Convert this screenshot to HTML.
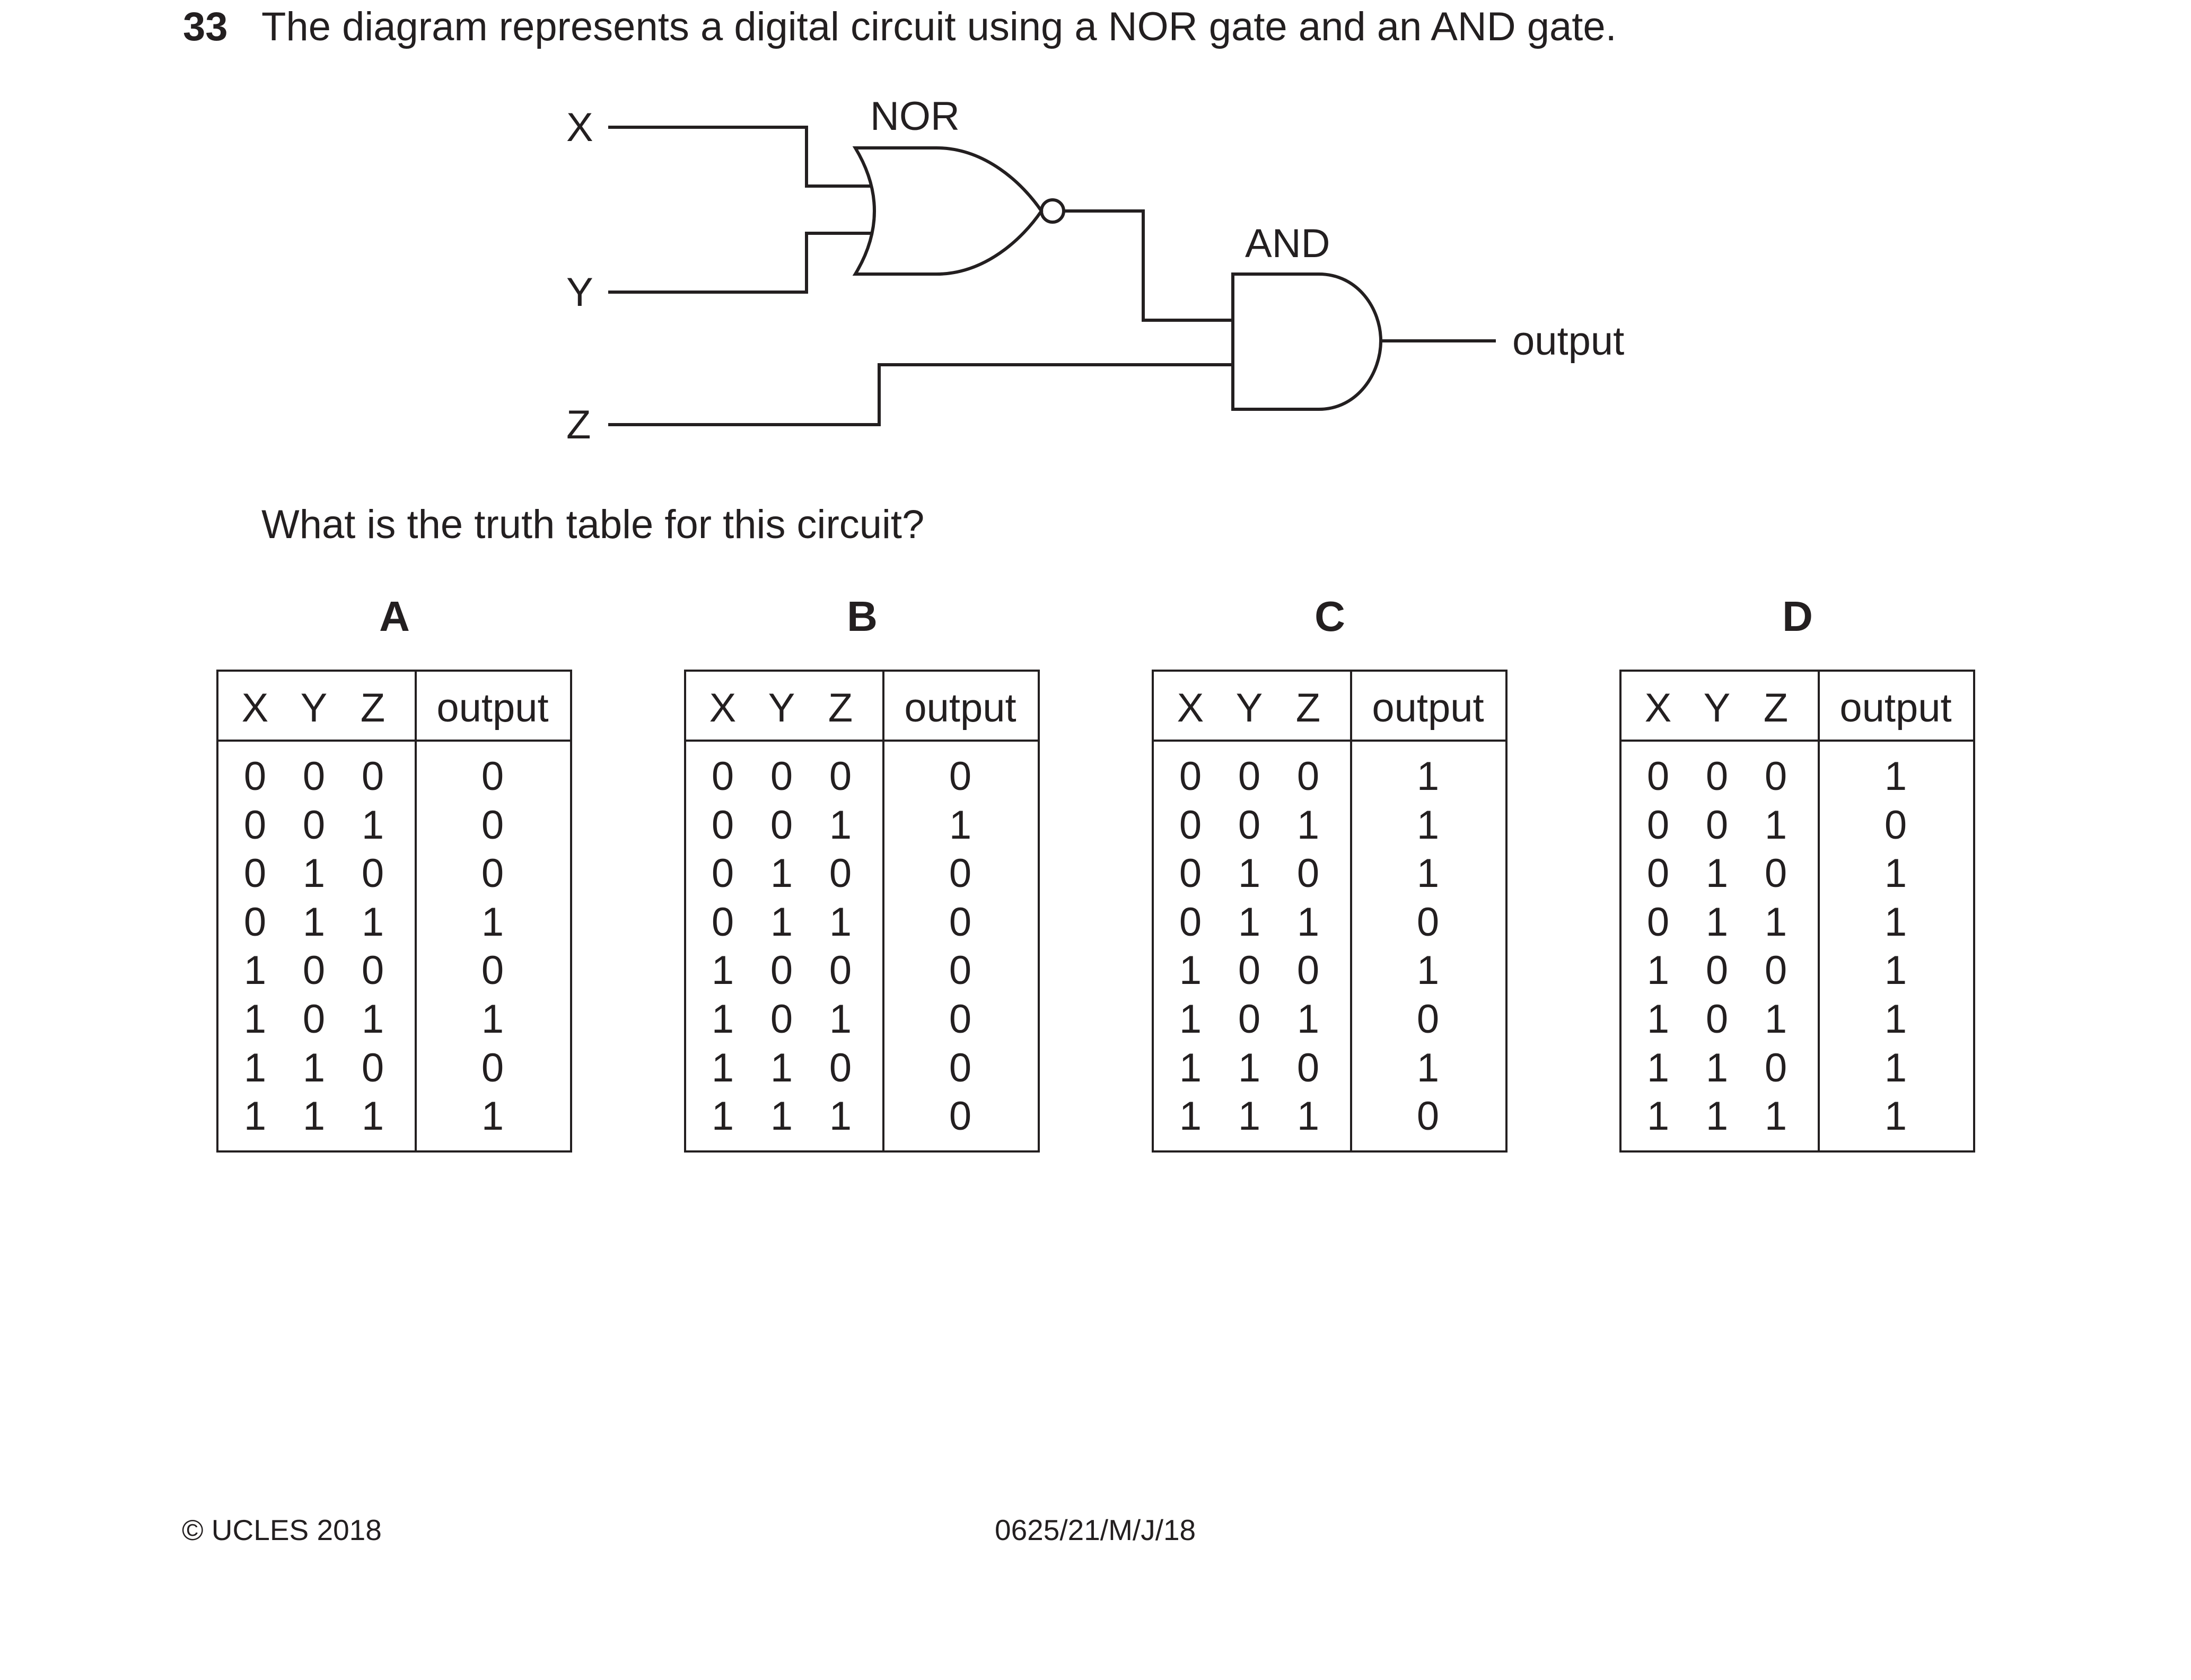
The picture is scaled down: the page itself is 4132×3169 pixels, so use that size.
<!DOCTYPE html>
<html><head><meta charset="utf-8"><style>
html,body{margin:0;padding:0;background:#fff;}
svg{display:block;}
text{font-family:"Liberation Sans",Arial,sans-serif;fill:#231f20;}
</style></head><body>
<svg width="4132" height="3169" viewBox="0 0 4132 3169" xmlns="http://www.w3.org/2000/svg">
<rect width="4132" height="3169" fill="#fff"/>
<text x="345" y="76" font-size="76" font-weight="bold">33</text>
<text x="493" y="76" font-size="76">The diagram represents a digital circuit using a NOR gate and an AND gate.</text>

<g stroke="#231f20" stroke-width="6" fill="none">
<polyline points="1147,240 1521,240 1521,351 1643,351"/>
<polyline points="1147,551 1521,551 1521,440 1645,440"/>
<path d="M1613,279 L1766,279 C1857,279 1928,345 1964,398 C1928,451 1857,517 1766,517 L1613,517 Q1685,398 1613,279 Z"/>
<circle cx="1985" cy="398" r="21"/>
<polyline points="2006,398 2156,398 2156,604 2325,604"/>
<polyline points="1147,801 1658,801 1658,688 2325,688"/>
<path d="M2325,517 L2487,517 C2561,517 2604,583 2604,643 C2604,703 2561,772 2487,772 L2325,772 Z"/>
<line x1="2604" y1="643" x2="2821" y2="643"/>
</g>
<text x="1068" y="266" font-size="76">X</text>
<text x="1068" y="577" font-size="76">Y</text>
<text x="1068" y="827" font-size="76">Z</text>
<text x="1641" y="245" font-size="76">NOR</text>
<text x="2348" y="485" font-size="76">AND</text>
<text x="2852" y="669" font-size="76">output</text>

<text x="493" y="1015" font-size="76">What is the truth table for this circuit?</text>

<!-- Table A -->
<g transform="translate(410,0)">
<text x="334" y="1190" font-size="80" font-weight="bold" text-anchor="middle">A</text>
<g stroke="#231f20" stroke-width="4" fill="none"><rect x="0" y="1265" width="667" height="907"/><line x1="374" y1="1265" x2="374" y2="2172"/><line x1="0" y1="1397" x2="667" y2="1397"/></g>
<g font-size="76" text-anchor="middle">
<text x="71" y="1361">X</text><text x="182" y="1361">Y</text><text x="293" y="1361">Z</text><text x="519" y="1361">output</text>
<text x="71" y="1490">0</text><text x="182" y="1490">0</text><text x="293" y="1490">0</text><text x="519" y="1490">0</text>
<text x="71" y="1582">0</text><text x="182" y="1582">0</text><text x="293" y="1582">1</text><text x="519" y="1582">0</text>
<text x="71" y="1673">0</text><text x="182" y="1673">1</text><text x="293" y="1673">0</text><text x="519" y="1673">0</text>
<text x="71" y="1765">0</text><text x="182" y="1765">1</text><text x="293" y="1765">1</text><text x="519" y="1765">1</text>
<text x="71" y="1856">1</text><text x="182" y="1856">0</text><text x="293" y="1856">0</text><text x="519" y="1856">0</text>
<text x="71" y="1948">1</text><text x="182" y="1948">0</text><text x="293" y="1948">1</text><text x="519" y="1948">1</text>
<text x="71" y="2040">1</text><text x="182" y="2040">1</text><text x="293" y="2040">0</text><text x="519" y="2040">0</text>
<text x="71" y="2131">1</text><text x="182" y="2131">1</text><text x="293" y="2131">1</text><text x="519" y="2131">1</text>
</g></g>
<!-- Table B -->
<g transform="translate(1292,0)">
<text x="334" y="1190" font-size="80" font-weight="bold" text-anchor="middle">B</text>
<g stroke="#231f20" stroke-width="4" fill="none"><rect x="0" y="1265" width="667" height="907"/><line x1="374" y1="1265" x2="374" y2="2172"/><line x1="0" y1="1397" x2="667" y2="1397"/></g>
<g font-size="76" text-anchor="middle">
<text x="71" y="1361">X</text><text x="182" y="1361">Y</text><text x="293" y="1361">Z</text><text x="519" y="1361">output</text>
<text x="71" y="1490">0</text><text x="182" y="1490">0</text><text x="293" y="1490">0</text><text x="519" y="1490">0</text>
<text x="71" y="1582">0</text><text x="182" y="1582">0</text><text x="293" y="1582">1</text><text x="519" y="1582">1</text>
<text x="71" y="1673">0</text><text x="182" y="1673">1</text><text x="293" y="1673">0</text><text x="519" y="1673">0</text>
<text x="71" y="1765">0</text><text x="182" y="1765">1</text><text x="293" y="1765">1</text><text x="519" y="1765">0</text>
<text x="71" y="1856">1</text><text x="182" y="1856">0</text><text x="293" y="1856">0</text><text x="519" y="1856">0</text>
<text x="71" y="1948">1</text><text x="182" y="1948">0</text><text x="293" y="1948">1</text><text x="519" y="1948">0</text>
<text x="71" y="2040">1</text><text x="182" y="2040">1</text><text x="293" y="2040">0</text><text x="519" y="2040">0</text>
<text x="71" y="2131">1</text><text x="182" y="2131">1</text><text x="293" y="2131">1</text><text x="519" y="2131">0</text>
</g></g>
<!-- Table C -->
<g transform="translate(2174,0)">
<text x="334" y="1190" font-size="80" font-weight="bold" text-anchor="middle">C</text>
<g stroke="#231f20" stroke-width="4" fill="none"><rect x="0" y="1265" width="667" height="907"/><line x1="374" y1="1265" x2="374" y2="2172"/><line x1="0" y1="1397" x2="667" y2="1397"/></g>
<g font-size="76" text-anchor="middle">
<text x="71" y="1361">X</text><text x="182" y="1361">Y</text><text x="293" y="1361">Z</text><text x="519" y="1361">output</text>
<text x="71" y="1490">0</text><text x="182" y="1490">0</text><text x="293" y="1490">0</text><text x="519" y="1490">1</text>
<text x="71" y="1582">0</text><text x="182" y="1582">0</text><text x="293" y="1582">1</text><text x="519" y="1582">1</text>
<text x="71" y="1673">0</text><text x="182" y="1673">1</text><text x="293" y="1673">0</text><text x="519" y="1673">1</text>
<text x="71" y="1765">0</text><text x="182" y="1765">1</text><text x="293" y="1765">1</text><text x="519" y="1765">0</text>
<text x="71" y="1856">1</text><text x="182" y="1856">0</text><text x="293" y="1856">0</text><text x="519" y="1856">1</text>
<text x="71" y="1948">1</text><text x="182" y="1948">0</text><text x="293" y="1948">1</text><text x="519" y="1948">0</text>
<text x="71" y="2040">1</text><text x="182" y="2040">1</text><text x="293" y="2040">0</text><text x="519" y="2040">1</text>
<text x="71" y="2131">1</text><text x="182" y="2131">1</text><text x="293" y="2131">1</text><text x="519" y="2131">0</text>
</g></g>
<!-- Table D -->
<g transform="translate(3056,0)">
<text x="334" y="1190" font-size="80" font-weight="bold" text-anchor="middle">D</text>
<g stroke="#231f20" stroke-width="4" fill="none"><rect x="0" y="1265" width="667" height="907"/><line x1="374" y1="1265" x2="374" y2="2172"/><line x1="0" y1="1397" x2="667" y2="1397"/></g>
<g font-size="76" text-anchor="middle">
<text x="71" y="1361">X</text><text x="182" y="1361">Y</text><text x="293" y="1361">Z</text><text x="519" y="1361">output</text>
<text x="71" y="1490">0</text><text x="182" y="1490">0</text><text x="293" y="1490">0</text><text x="519" y="1490">1</text>
<text x="71" y="1582">0</text><text x="182" y="1582">0</text><text x="293" y="1582">1</text><text x="519" y="1582">0</text>
<text x="71" y="1673">0</text><text x="182" y="1673">1</text><text x="293" y="1673">0</text><text x="519" y="1673">1</text>
<text x="71" y="1765">0</text><text x="182" y="1765">1</text><text x="293" y="1765">1</text><text x="519" y="1765">1</text>
<text x="71" y="1856">1</text><text x="182" y="1856">0</text><text x="293" y="1856">0</text><text x="519" y="1856">1</text>
<text x="71" y="1948">1</text><text x="182" y="1948">0</text><text x="293" y="1948">1</text><text x="519" y="1948">1</text>
<text x="71" y="2040">1</text><text x="182" y="2040">1</text><text x="293" y="2040">0</text><text x="519" y="2040">1</text>
<text x="71" y="2131">1</text><text x="182" y="2131">1</text><text x="293" y="2131">1</text><text x="519" y="2131">1</text>
</g></g>

<text x="343" y="2905" font-size="55">© UCLES 2018</text>
<text x="1876" y="2905" font-size="55">0625/21/M/J/18</text>
</svg>
</body></html>
